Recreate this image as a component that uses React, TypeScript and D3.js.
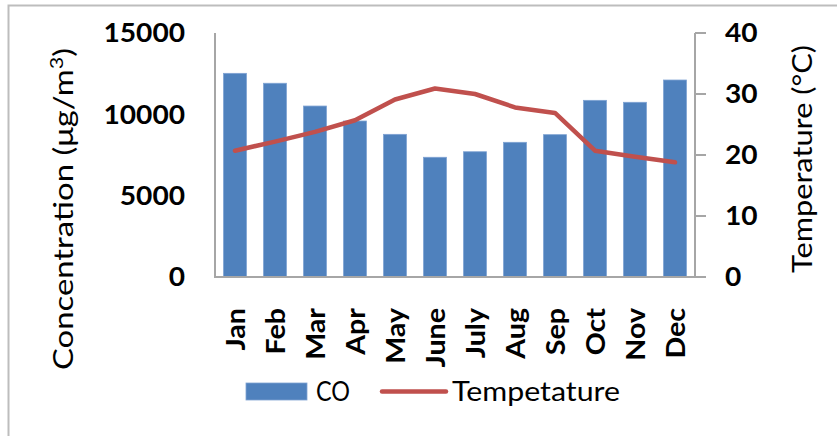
import React from 'react';
import * as d3 from 'd3';

const months = ['Jan', 'Feb', 'Mar', 'Apr', 'May', 'June', 'July', 'Aug', 'Sep', 'Oct', 'Nov', 'Dec'];
const coValues = [12520, 11910, 10510, 9590, 8770, 7360, 7700, 8280, 8750, 10860, 10740, 12110];
const tempValues = [20.7, 22.2, 23.8, 25.7, 29.1, 30.9, 30.0, 27.8, 26.9, 20.7, 19.7, 18.8];
const coTicks = [0, 5000, 10000, 15000];
const tempTicks = [0, 10, 20, 30, 40];

const W = 837;
const H = 436;
const plot = { left: 215, right: 695, top: 33, bottom: 277 };
const FONT = 'Lato, "Open Sans", sans-serif';
const BAR = '#4F81BD';
const LINE = '#C0504D';
const AXIS = '#A6A6A6';
const DIGIT_W = 16.3;

export default function App() {
  const x = d3
    .scaleBand<string>()
    .domain(months)
    .range([plot.left, plot.right])
    .paddingInner(0.425)
    .paddingOuter(0.2125);
  const yCo = d3.scaleLinear().domain([0, 15000]).range([plot.bottom, plot.top]);
  const yT = d3.scaleLinear().domain([0, 40]).range([plot.bottom, plot.top]);

  const line = d3
    .line<number>()
    .x((_, i) => (x(months[i]) as number) + x.bandwidth() / 2)
    .y((d) => yT(d));

  return (
    <div style={{ position: 'absolute', left: 0, top: 0 }}>
      <svg width={W} height={H} style={{ display: 'block', background: '#fff' }} fontFamily={FONT}>
        {/* outer frame */}
        <rect x={8.5} y={5.5} width={W} height={H} fill="none" stroke="#BDBDBD" strokeWidth={2} />

        {/* bars */}
        {coValues.map((v, i) => (
          <rect
            key={months[i]}
            x={x(months[i])}
            y={yCo(v)}
            width={x.bandwidth()}
            height={yCo(0) - yCo(v)}
            fill={BAR}
            stroke="#7FA3D3"
            strokeWidth={0.8}
          />
        ))}

        {/* axes */}
        <line x1={plot.left} x2={plot.left} y1={plot.top} y2={plot.bottom} stroke={AXIS} strokeWidth={2} />
        <line x1={plot.left - 1} x2={plot.right + 11} y1={plot.bottom} y2={plot.bottom} stroke={AXIS} strokeWidth={2} />
        <line x1={plot.right} x2={plot.right} y1={plot.top} y2={plot.bottom} stroke={AXIS} strokeWidth={2} />
        {tempTicks.map((t) => (
          <line key={t} x1={plot.right} x2={plot.right + 11} y1={yT(t)} y2={yT(t)} stroke={AXIS} strokeWidth={2} />
        ))}

        {/* temperature line */}
        <path d={line(tempValues) || ''} fill="none" stroke={LINE} strokeWidth={4.5} strokeLinejoin="round" strokeLinecap="round" />

        {/* left tick labels */}
        {coTicks.map((t) => (
          <text
            key={t}
            x={185}
            y={yCo(t)}
            dy="0.36em"
            textAnchor="end"
            fontSize={26}
            fontWeight="bold"
            fill="#000"
            textLength={String(t).length * DIGIT_W}
            lengthAdjust="spacingAndGlyphs"
          >
            {t}
          </text>
        ))}
        {/* right tick labels */}
        {tempTicks.map((t) => (
          <text
            key={t}
            x={725}
            y={yT(t)}
            dy="0.36em"
            textAnchor="start"
            fontSize={26}
            fontWeight="bold"
            fill="#000"
            textLength={String(t).length * DIGIT_W}
            lengthAdjust="spacingAndGlyphs"
          >
            {t}
          </text>
        ))}

        {/* month labels */}
        {months.map((m) => {
          const cx = (x(m) as number) + x.bandwidth() / 2;
          return (
            <text
              key={m}
              transform={`translate(${cx + 10},${308}) rotate(-90) scale(1.1,1)`}
              textAnchor="end"
              fontSize={26}
              fontWeight="bold"
              fill="#000"
            >
              {m}
            </text>
          );
        })}

        {/* axis titles */}
        <text
          transform="translate(73,209) rotate(-90)"
          textAnchor="middle"
          fontSize={26}
          fill="#000"
          textLength={322}
          lengthAdjust="spacingAndGlyphs"
        >
          Concentration (μg/m<tspan dy="-10" fontSize={17}>3</tspan>
          <tspan dy="10">)</tspan>
        </text>
        <text
          transform="translate(812,159) rotate(-90)"
          textAnchor="middle"
          fontSize={26}
          fill="#000"
          textLength={228}
          lengthAdjust="spacingAndGlyphs"
        >
          Temperature (°C)
        </text>

        {/* legend */}
        <rect x={246} y={383} width={61} height={17} fill={BAR} stroke="#7FA3D3" strokeWidth={0.8} />
        <text x={316} y={391.5} dy="0.36em" fontSize={26} fill="#000" textLength={34} lengthAdjust="spacingAndGlyphs">
          CO
        </text>
        <line x1={382} x2={446} y1={391.5} y2={391.5} stroke={LINE} strokeWidth={4.5} strokeLinecap="round" />
        <text x={452} y={391.5} dy="0.36em" fontSize={26} fill="#000" textLength={168} lengthAdjust="spacingAndGlyphs">
          Tempetature
        </text>
      </svg>
    </div>
  );
}
